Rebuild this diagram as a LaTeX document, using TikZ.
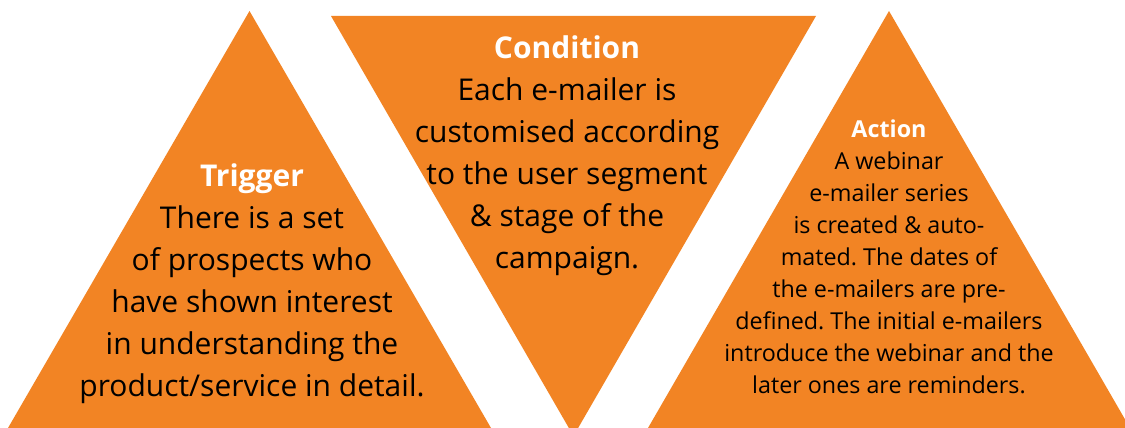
\documentclass[tikz,border=0pt]{standalone}
\usepackage{fontspec}
\setmainfont{Open Sans}
\frenchspacing
\definecolor{tri}{HTML}{F28424}
\tikzset{
  tribox/.style={fill=tri, draw=none},
  bigtext/.style={align=center, inner sep=0pt, text=black, font=\fontsize{30}{42}\selectfont},
  smalltext/.style={align=center, inner sep=0pt, text=black, font=\fontsize{23.3}{32}\selectfont},
}
\newcommand{\ttl}[1]{\textcolor{white}{\bfseries #1}}
\begin{document}
\begin{tikzpicture}[x=1pt,y=-1pt]
\useasboundingbox (0,0) rectangle (1125,428);
\clip (0,0) rectangle (1125,428);
\fill[white] (0,0) rectangle (1125,428);
\fill[tribox] (249.5,11) -- (8,428) -- (491,428) -- cycle;
\fill[tribox] (331,16) -- (816,16) -- (573.5,436) -- cycle;
\fill[tribox] (889,11) -- (648,428) -- (1130,428) -- cycle;
\node[bigtext] (trigger) at (252,284) {\ttl{Trigger}\\There is a set\\of prospects who\\have shown interest\\in understanding the\\product/service in detail.};
\node[bigtext] (condition) at (567,156) {\ttl{Condition}\\Each e-mailer is\\customised according\\to the user segment\\\& stage of the\\campaign.};
\node[smalltext] (action) at (889,257) {\ttl{Action}\\A webinar\\e-mailer series\\is created \& auto-\\mated. The dates of\\the e-mailers are pre-\\defined. The initial e-mailers\\introduce the webinar and the\\later ones are reminders.};
\end{tikzpicture}
\end{document}
